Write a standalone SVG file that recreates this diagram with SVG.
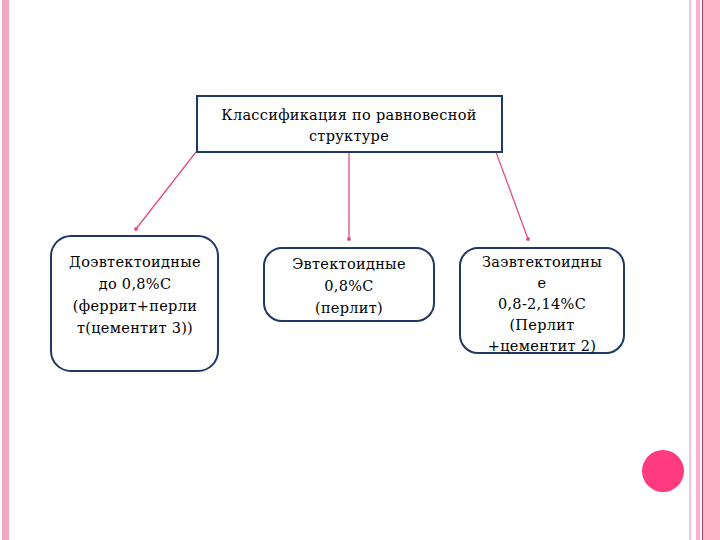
<svg xmlns="http://www.w3.org/2000/svg" width="720" height="540" viewBox="0 0 720 540">
<style>
.t{font-family:"DejaVu Serif","Liberation Serif",serif;font-size:14.5px;letter-spacing:0.3px;fill:#000;text-anchor:middle}
.b{fill:#fff;stroke:#1f3864;stroke-width:2}
.c{stroke:#e0507a;stroke-width:1.3;fill:none;marker-end:url(#m)}
</style>
<defs><marker id="m" markerWidth="4" markerHeight="4" refX="2" refY="2" markerUnits="strokeWidth"><circle cx="2" cy="2" r="1.5" fill="#e0507a"/></marker></defs>
<rect width="720" height="540" fill="#fff"/>
<rect x="2" y="0" width="7" height="540" fill="#f0a8c0"/>
<rect x="689" y="0" width="2" height="540" fill="#f8c0d4"/>
<rect x="696" y="0" width="4" height="540" fill="#ffb0c8"/>
<rect x="702" y="0" width="18" height="540" fill="#ffb6cc"/>
<line x1="702.5" y1="0" x2="702.5" y2="540" stroke="#a04060" stroke-width="1"/>
<circle cx="663" cy="471" r="21" fill="#ff3a80"/>
<g id="connectors">
<line class="c" x1="196" y1="152" x2="136" y2="229"/>
<line class="c" x1="349" y1="152" x2="349" y2="239"/>
<line class="c" x1="496" y1="152" x2="528" y2="239"/>
</g>
<g id="root"><rect class="b" x="197" y="96" width="305" height="56"/>
<text class="t" x="349" y="120">Классификация по равновесной</text><text class="t" x="349" y="141">структуре</text></g>
<g id="n1"><rect class="b" x="51" y="236" width="167" height="135" rx="20"/>
<text class="t" x="135" y="267">Доэвтектоидные</text><text class="t" x="135" y="289">до 0,8%С</text><text class="t" x="135" y="311">(феррит+перли</text><text class="t" x="135" y="333">т(цементит 3))</text></g>
<g id="n2"><rect class="b" x="264" y="248" width="170" height="73" rx="18"/>
<text class="t" x="349" y="269">Эвтектоидные</text><text class="t" x="349" y="291">0,8%С</text><text class="t" x="349" y="313">(перлит)</text></g>
<g id="n3"><rect class="b" x="460" y="248" width="164" height="105" rx="18"/>
<text class="t" x="542" y="267">Заэвтектоидны</text><text class="t" x="542" y="288">е</text><text class="t" x="542" y="309">0,8-2,14%С</text><text class="t" x="542" y="330">(Перлит</text><text class="t" x="542" y="351">+цементит 2)</text></g>
</svg>
